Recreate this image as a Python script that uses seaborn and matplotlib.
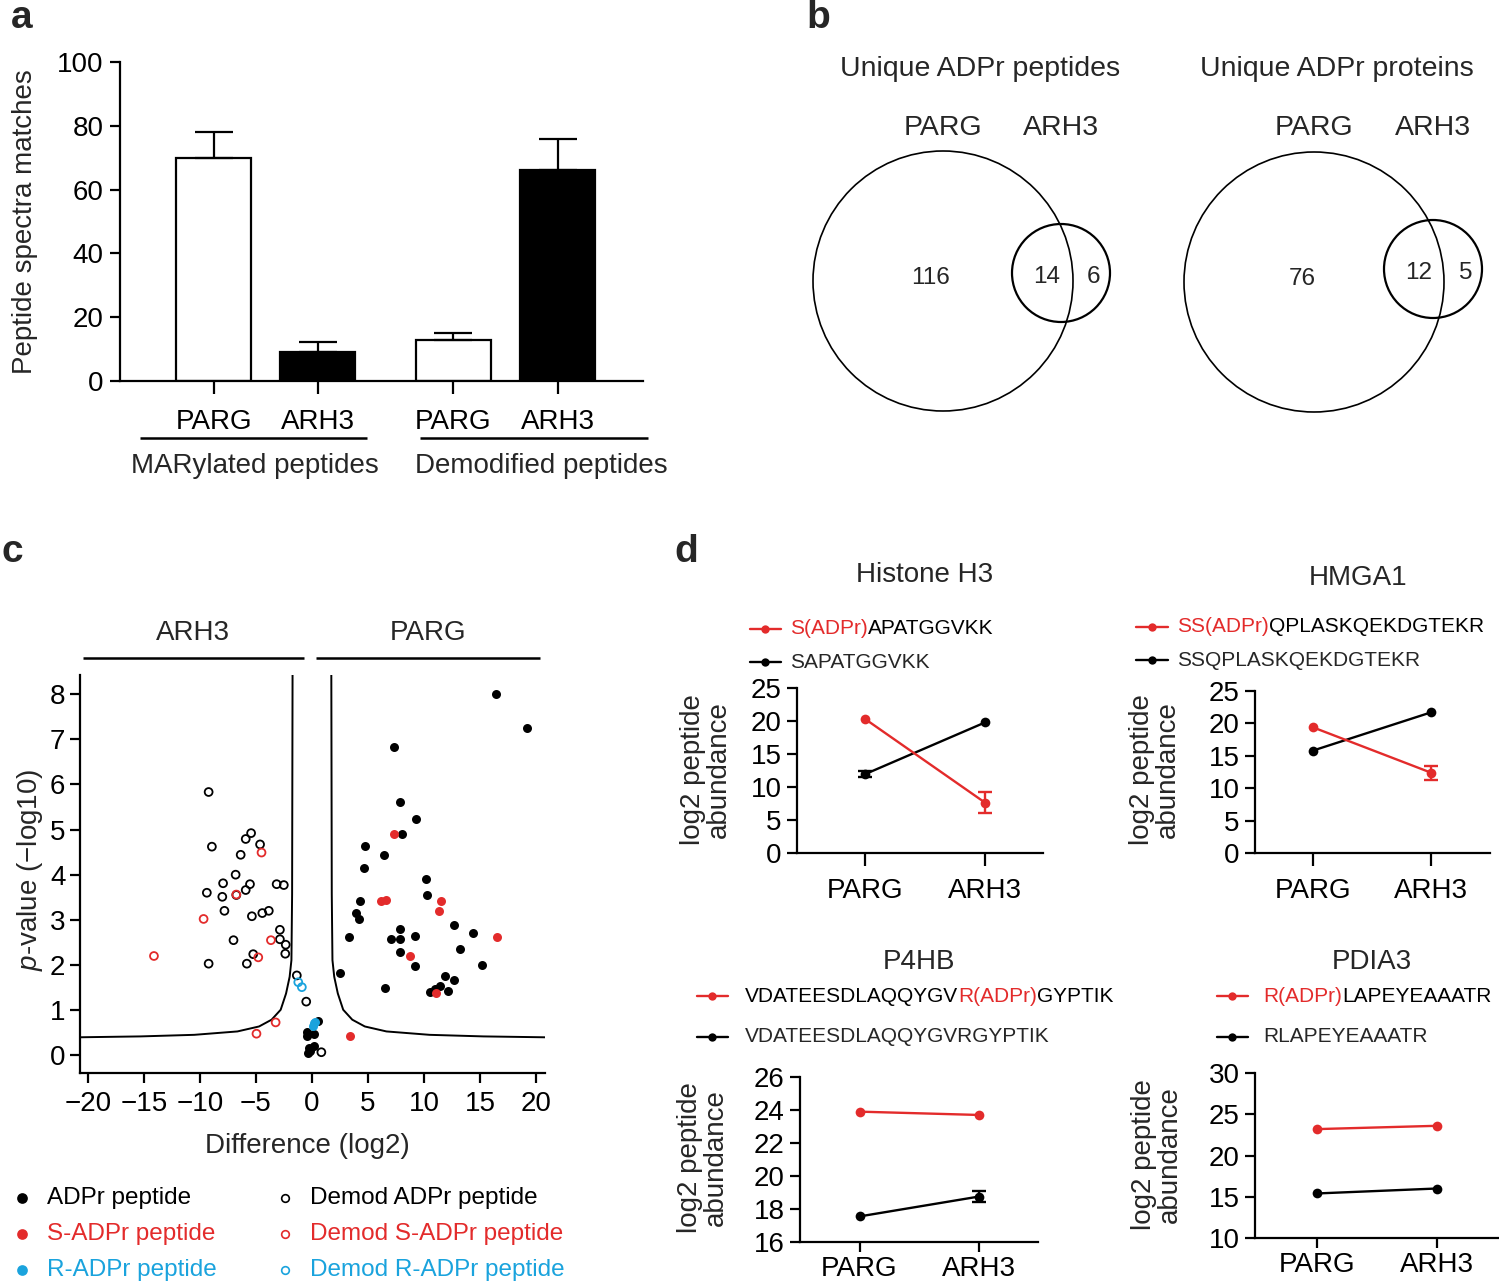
import numpy as np
import pandas as pd
import seaborn as sns
import matplotlib.pyplot as plt
from matplotlib.patches import Circle

sns.set_theme(style="ticks")
plt.rcParams['font.family'] = ['Liberation Sans', 'DejaVu Sans']
plt.rcParams['mathtext.fontset'] = 'custom'
plt.rcParams['mathtext.it'] = 'Liberation Sans:italic'
plt.rcParams['mathtext.rm'] = 'Liberation Sans'
plt.rcParams['axes.linewidth'] = 1.6
plt.rcParams['xtick.major.width'] = 1.6
plt.rcParams['ytick.major.width'] = 1.6

RED = '#e32b2b'
BLUE = '#1aa3dd'

# ---- panel a: PSM counts
bar_enzyme = ['PARG', 'ARH3', 'PARG', 'ARH3']
bar_group = ['MARylated peptides', 'Demodified peptides']
bar_psm = [70, 9, 13, 66]
bar_err = [8, 3.2, 2.2, 9.8]

# ---- panel b: venn counts
venn_titles = ['Unique ADPr peptides', 'Unique ADPr proteins']
venn_only_parg = [116, 76]
venn_both = [14, 12]
venn_only_arh3 = [6, 5]

# ---- panel c: volcano
adpr_x = [16.45, 19.15, 7.32, 7.87, 9.32, 8.06, 4.75, 6.42, 4.69, 10.2, 10.25, 4.27, 3.95, 4.21,
          12.72, 14.33, 7.9, 3.34, 7.07, 7.9, 9.19, 13.23, 7.9, 9.19, 15.19, 2.47, 11.85, 12.72,
          6.49, 11.44, 10.57, 11.02, 12.17, -0.48, -0.48, 0.19, 0.51, -0.22, -0.13, 0.16, -0.32]
adpr_y = [7.99, 7.24, 6.83, 5.61, 5.24, 4.9, 4.63, 4.43, 4.14, 3.91, 3.54, 3.41, 3.15, 3.02,
          2.88, 2.72, 2.8, 2.62, 2.57, 2.57, 2.64, 2.36, 2.28, 1.97, 1.99, 1.83, 1.75, 1.66,
          1.5, 1.54, 1.41, 1.46, 1.42, 0.51, 0.44, 0.47, 0.75, 0.16, 0.09, 0.2, 0.05]
s_adpr_x = [7.29, 6.14, 6.65, 11.5, 11.37, 16.54, 8.71, 11.11, 3.44]
s_adpr_y = [4.91, 3.41, 3.44, 3.42, 3.2, 2.63, 2.19, 1.37, 0.43]
r_adpr_x = [0.13, 0.22, 0.3]
r_adpr_y = [0.64, 0.71, 0.74]
demod_x = [-9.22, -8.93, -5.91, -5.43, -4.63, -6.36, -6.81, -7.93, -5.53, -5.91, -9.38, -8.0,
           -6.75, -3.15, -2.51, -7.81, -4.43, -3.85, -5.36, -2.86, -2.86, -7.0, -2.34, -2.38,
           -5.24, -9.22, -5.81, -1.35, -0.51, 0.84]
demod_y = [5.83, 4.62, 4.79, 4.92, 4.67, 4.44, 4.0, 3.81, 3.79, 3.66, 3.6, 3.51, 3.55, 3.79,
           3.77, 3.2, 3.15, 3.2, 3.08, 2.78, 2.57, 2.55, 2.45, 2.25, 2.24, 2.03, 2.03, 1.77,
           1.19, 0.07]
demod_s_x = [-4.5, -6.75, -9.67, -3.66, -4.79, -14.1, -3.24, -4.95]
demod_s_y = [4.49, 3.56, 3.02, 2.55, 2.17, 2.2, 0.73, 0.48]
demod_r_x = [-1.22, -0.9]
demod_r_y = [1.62, 1.51]
# significance cut-off curve (right branch)
cut_x = [1.73, 1.77, 1.83, 1.99, 2.31, 2.79, 3.6, 4.72, 6.65, 10.5, 15.3, 20.9]
cut_y = [8.42, 3.57, 2.11, 1.74, 1.37, 1.01, 0.79, 0.64, 0.53, 0.455, 0.42, 0.40]

# ---- panel d: log2 peptide abundance
conditions = ['PARG', 'ARH3']
d_titles = ['Histone H3', 'HMGA1', 'P4HB', 'PDIA3']
h3_adpr, h3_adpr_err = [20.3, 7.6], [0, 1.6]
h3_unmod, h3_unmod_err = [11.95, 19.8], [0.5, 0]
hmga1_adpr, hmga1_adpr_err = [19.4, 12.4], [0, 1.1]
hmga1_unmod, hmga1_unmod_err = [15.8, 21.7], [0, 0]
p4hb_adpr, p4hb_adpr_err = [23.9, 23.7], [0, 0]
p4hb_unmod, p4hb_unmod_err = [17.55, 18.75], [0, 0.35]
pdia3_adpr, pdia3_adpr_err = [23.2, 23.6], [0, 0]
pdia3_unmod, pdia3_unmod_err = [15.4, 16.0], [0, 0]
adpr_labels = [[('S(ADPr)', RED), ('APATGGVKK', 'black')],
               [('SS(ADPr)', RED), ('QPLASKQEKDGTEKR', 'black')],
               [('VDATEESDLAQQYGV', 'black'), ('R(ADPr)', RED), ('GYPTIK', 'black')],
               [('R(ADPr)', RED), ('LAPEYEAAATR', 'black')]]
unmod_labels = ['SAPATGGVKK', 'SSQPLASKQEKDGTEKR', 'VDATEESDLAQQYGVRGYPTIK', 'RLAPEYEAAATR']

W, H = 1499, 1285
fig = plt.figure(figsize=(W / 100, H / 100), dpi=100)


def box(l, t, r, b):
    return [l / W, 1 - b / H, (r - l) / W, (b - t) / H]


def style_axes(ax, size):
    sns.despine(ax=ax)
    ax.tick_params(labelsize=size, length=7, colors='black')
    for s in ['left', 'bottom']:
        ax.spines[s].set_color('black')
        ax.spines[s].set_linewidth(1.6)


# ================= panel a
ax_a = fig.add_axes(box(120, 62, 643, 381))
bar_pos = [0, 1, 2.3, 3.3]
df_a = pd.DataFrame({'pos': bar_pos, 'psm': bar_psm, 'enzyme': bar_enzyme})
sns.barplot(data=df_a, x='pos', y='psm', hue='enzyme', native_scale=True, dodge=False,
            palette={'PARG': 'white', 'ARH3': 'black'}, width=0.72, edgecolor='black',
            linewidth=1.6, errorbar=None, legend=False, ax=ax_a)
ax_a.errorbar(bar_pos, bar_psm, yerr=[np.zeros(4), bar_err], fmt='none', ecolor='black',
              elinewidth=1.6, capsize=14, capthick=1.6)
ax_a.set_ylim(0, 100)
ax_a.set_yticks(range(0, 101, 20))
ax_a.set_xlim(-0.9, 4.12)
ax_a.set_xticks(bar_pos)
ax_a.set_xticklabels(bar_enzyme)
ax_a.set_xlabel('')
ax_a.set_ylabel('')
style_axes(ax_a, 20)
ax_a.tick_params(axis='x', length=9, pad=11)
ax_a.tick_params(axis='y', pad=5)

# ================= panel c
ax_c = fig.add_axes(box(80, 675, 545, 1073))
sns.lineplot(x=cut_x, y=cut_y, sort=False, estimator=None, color='black', linewidth=1.4, ax=ax_c)
sns.lineplot(x=[-v for v in cut_x], y=cut_y, sort=False, estimator=None, color='black',
             linewidth=1.4, ax=ax_c)
for xs, ys, col in [(demod_x, demod_y, 'black'), (demod_s_x, demod_s_y, RED),
                    (demod_r_x, demod_r_y, BLUE)]:
    sns.scatterplot(x=xs, y=ys, facecolor='none', edgecolor=col, linewidth=1.3, s=32, ax=ax_c,
                    zorder=3)
for xs, ys, col in [(adpr_x, adpr_y, 'black'), (s_adpr_x, s_adpr_y, RED),
                    (r_adpr_x, r_adpr_y, BLUE)]:
    sns.scatterplot(x=xs, y=ys, color=col, edgecolor=col, linewidth=0, s=42, ax=ax_c, zorder=4)
ax_c.set_xlim(-20.7, 20.8)
ax_c.set_ylim(-0.39, 8.42)
ax_c.set_xticks(range(-20, 21, 5))
ax_c.set_yticks(range(0, 9))
style_axes(ax_c, 20)
ax_c.tick_params(axis='x', pad=6)

# ================= panel d
d_boxes = [(797, 688, 1043, 853), (1255, 691, 1490, 853),
           (800, 1077, 1038, 1242), (1255, 1073, 1498, 1238)]
d_xlims = [(-0.567, 1.48), (-0.49, 1.5), (-0.5, 1.5), (-0.52, 1.51)]
d_ylims = [(0, 25), (0, 25), (16, 26), (10, 30)]
d_ysteps = [5, 5, 2, 5]
d_xpads = [9, 9, 3, 3]
d_adpr = [(h3_adpr, h3_adpr_err), (hmga1_adpr, hmga1_adpr_err),
          (p4hb_adpr, p4hb_adpr_err), (pdia3_adpr, pdia3_adpr_err)]
d_unmod = [(h3_unmod, h3_unmod_err), (hmga1_unmod, hmga1_unmod_err),
           (p4hb_unmod, p4hb_unmod_err), (pdia3_unmod, pdia3_unmod_err)]
for i in range(4):
    ax = fig.add_axes(box(*d_boxes[i]))
    for (vals, errs), col in [(d_unmod[i], 'black'), (d_adpr[i], RED)]:
        sns.lineplot(x=[0, 1], y=vals, color=col, marker='o', markersize=7, markeredgewidth=0,
                     linewidth=1.7, ax=ax)
        for xi in range(2):
            if errs[xi] > 0:
                ax.errorbar(xi, vals[xi], yerr=errs[xi], fmt='none', ecolor=col,
                            elinewidth=1.7, capsize=5, capthick=1.7)
    ax.set_xlim(*d_xlims[i])
    ax.set_ylim(*d_ylims[i])
    ax.set_yticks(np.arange(d_ylims[i][0], d_ylims[i][1] + 0.1, d_ysteps[i]))
    ax.set_xticks([0, 1])
    ax.set_xticklabels(conditions)
    style_axes(ax, 20)
    ax.tick_params(axis='x', length=9 if i < 2 else 7, pad=d_xpads[i])
    ax.tick_params(axis='y', pad=4)

# ================= overlay canvas in pixel coordinates (text, venn, legends)
cv = fig.add_axes([0, 0, 1, 1], zorder=10)
cv.set_xlim(0, W)
cv.set_ylim(H, 0)
cv.axis('off')


def hline(x0, x1, y, lw=1.8, color='black'):
    cv.plot([x0, x1], [y, y], color=color, lw=lw, solid_capstyle='butt')


def rich(x, y, parts, size):
    t = cv.text(x, y, parts[0][0], color=parts[0][1], fontsize=size, ha='left', va='center')
    for s, c in parts[1:]:
        t = cv.annotate(s, xy=(1, 0), xycoords=t, color=c, fontsize=size, ha='left',
                        va='bottom', annotation_clip=False)


# panel letters
for lab, (x, y) in zip('abcd', [(22, 18), (818, 18), (12, 552), (686, 552)]):
    cv.text(x, y, lab, fontsize=28, fontweight='bold', ha='center', va='center')

# panel a annotations
cv.text(25, 222, 'Peptide spectra matches', rotation=90, fontsize=20, ha='center', va='center')
hline(140, 367, 438)
hline(420, 648, 438)
cv.text(255, 466, bar_group[0], fontsize=20, ha='center', va='center')
cv.text(541, 466, bar_group[1], fontsize=20, ha='center', va='center')

# panel b venn diagrams
venn_big = [(943, 281), (1314, 282)]
venn_small = [(1061, 273), (1433, 269)]
venn_title_x = [980, 1337]
for k in range(2):
    bx, by = venn_big[k]
    sx, sy = venn_small[k]
    cv.add_patch(Circle((bx, by), 130, fill=False, lw=1.2, ec='black'))
    cv.add_patch(Circle((sx, sy), 49, fill=False, lw=1.6, ec='black'))
    cv.text(venn_title_x[k], 69, venn_titles[k], fontsize=20.5, ha='center', va='center')
    cv.text(bx, 128, 'PARG', fontsize=20.5, ha='center', va='center')
    cv.text(sx, 128, 'ARH3', fontsize=20.5, ha='center', va='center')
    cv.text(bx - 12, by - 3, str(venn_only_parg[k]), fontsize=17.5, ha='center', va='center')
    cv.text(sx - 14, sy + 4, str(venn_both[k]), fontsize=17.5, ha='center', va='center')
    cv.text(sx + 33, sy + 4, str(venn_only_arh3[k]), fontsize=17.5, ha='center', va='center')

# panel c annotations
cv.text(193, 633, 'ARH3', fontsize=20, ha='center', va='center')
cv.text(428, 633, 'PARG', fontsize=20, ha='center', va='center')
hline(83, 304, 658)
hline(316, 540, 658)
cv.text(30, 870, '$p$-value (\u2212log10)', rotation=90, fontsize=20, ha='center', va='center')
cv.text(307, 1146, 'Difference (log2)', fontsize=20, ha='center', va='center')
leg_c = [('ADPr peptide', 'black', True), ('S-ADPr peptide', RED, True),
         ('R-ADPr peptide', BLUE, True), ('Demod ADPr peptide', 'black', False),
         ('Demod S-ADPr peptide', RED, False), ('Demod R-ADPr peptide', BLUE, False)]
for j, (lab, col, filled) in enumerate(leg_c):
    mx = 22 if j < 3 else 285
    my = [1198, 1234, 1270][j % 3]
    cv.plot([mx], [my], marker='o', ms=6.5 if filled else 5.5,
            mfc=col if filled else 'none', mec=col, mew=1.2, ls='none')
    cv.text(mx + 25, my, lab, color=col, fontsize=17.5, ha='left', va='center')

# panel d annotations
d_title_pos = [(925, 575), (1358, 578), (919, 962), (1372, 962)]
d_ylab_pos = [(706, 770), (1155, 770), (703, 1158), (1157, 1155)]
d_leg = [(750, 781, 629, 662, 790), (1136, 1168, 627, 660, 1177),
         (697, 728, 996, 1037, 745), (1217, 1248, 996, 1037, 1263)]
for i in range(4):
    tx, ty = d_title_pos[i]
    cv.text(tx, ty, d_titles[i], fontsize=20, ha='center', va='center')
    lx, ly = d_ylab_pos[i]
    cv.text(lx, ly, 'log2 peptide\nabundance', rotation=90, fontsize=20, ha='center',
            va='center', linespacing=1.0)
    x0, x1, y_red, y_blk, xt = d_leg[i]
    for yy, col in [(y_red, RED), (y_blk, 'black')]:
        cv.plot([x0, (x0 + x1) / 2, x1], [yy] * 3, color=col, lw=1.7, marker='o', ms=6,
                mew=0, markevery=[1])
    rich(xt, y_red, adpr_labels[i], 15)
    cv.text(xt, y_blk, unmod_labels[i], fontsize=15, ha='left', va='center')

fig.savefig('out.png', dpi=100)
